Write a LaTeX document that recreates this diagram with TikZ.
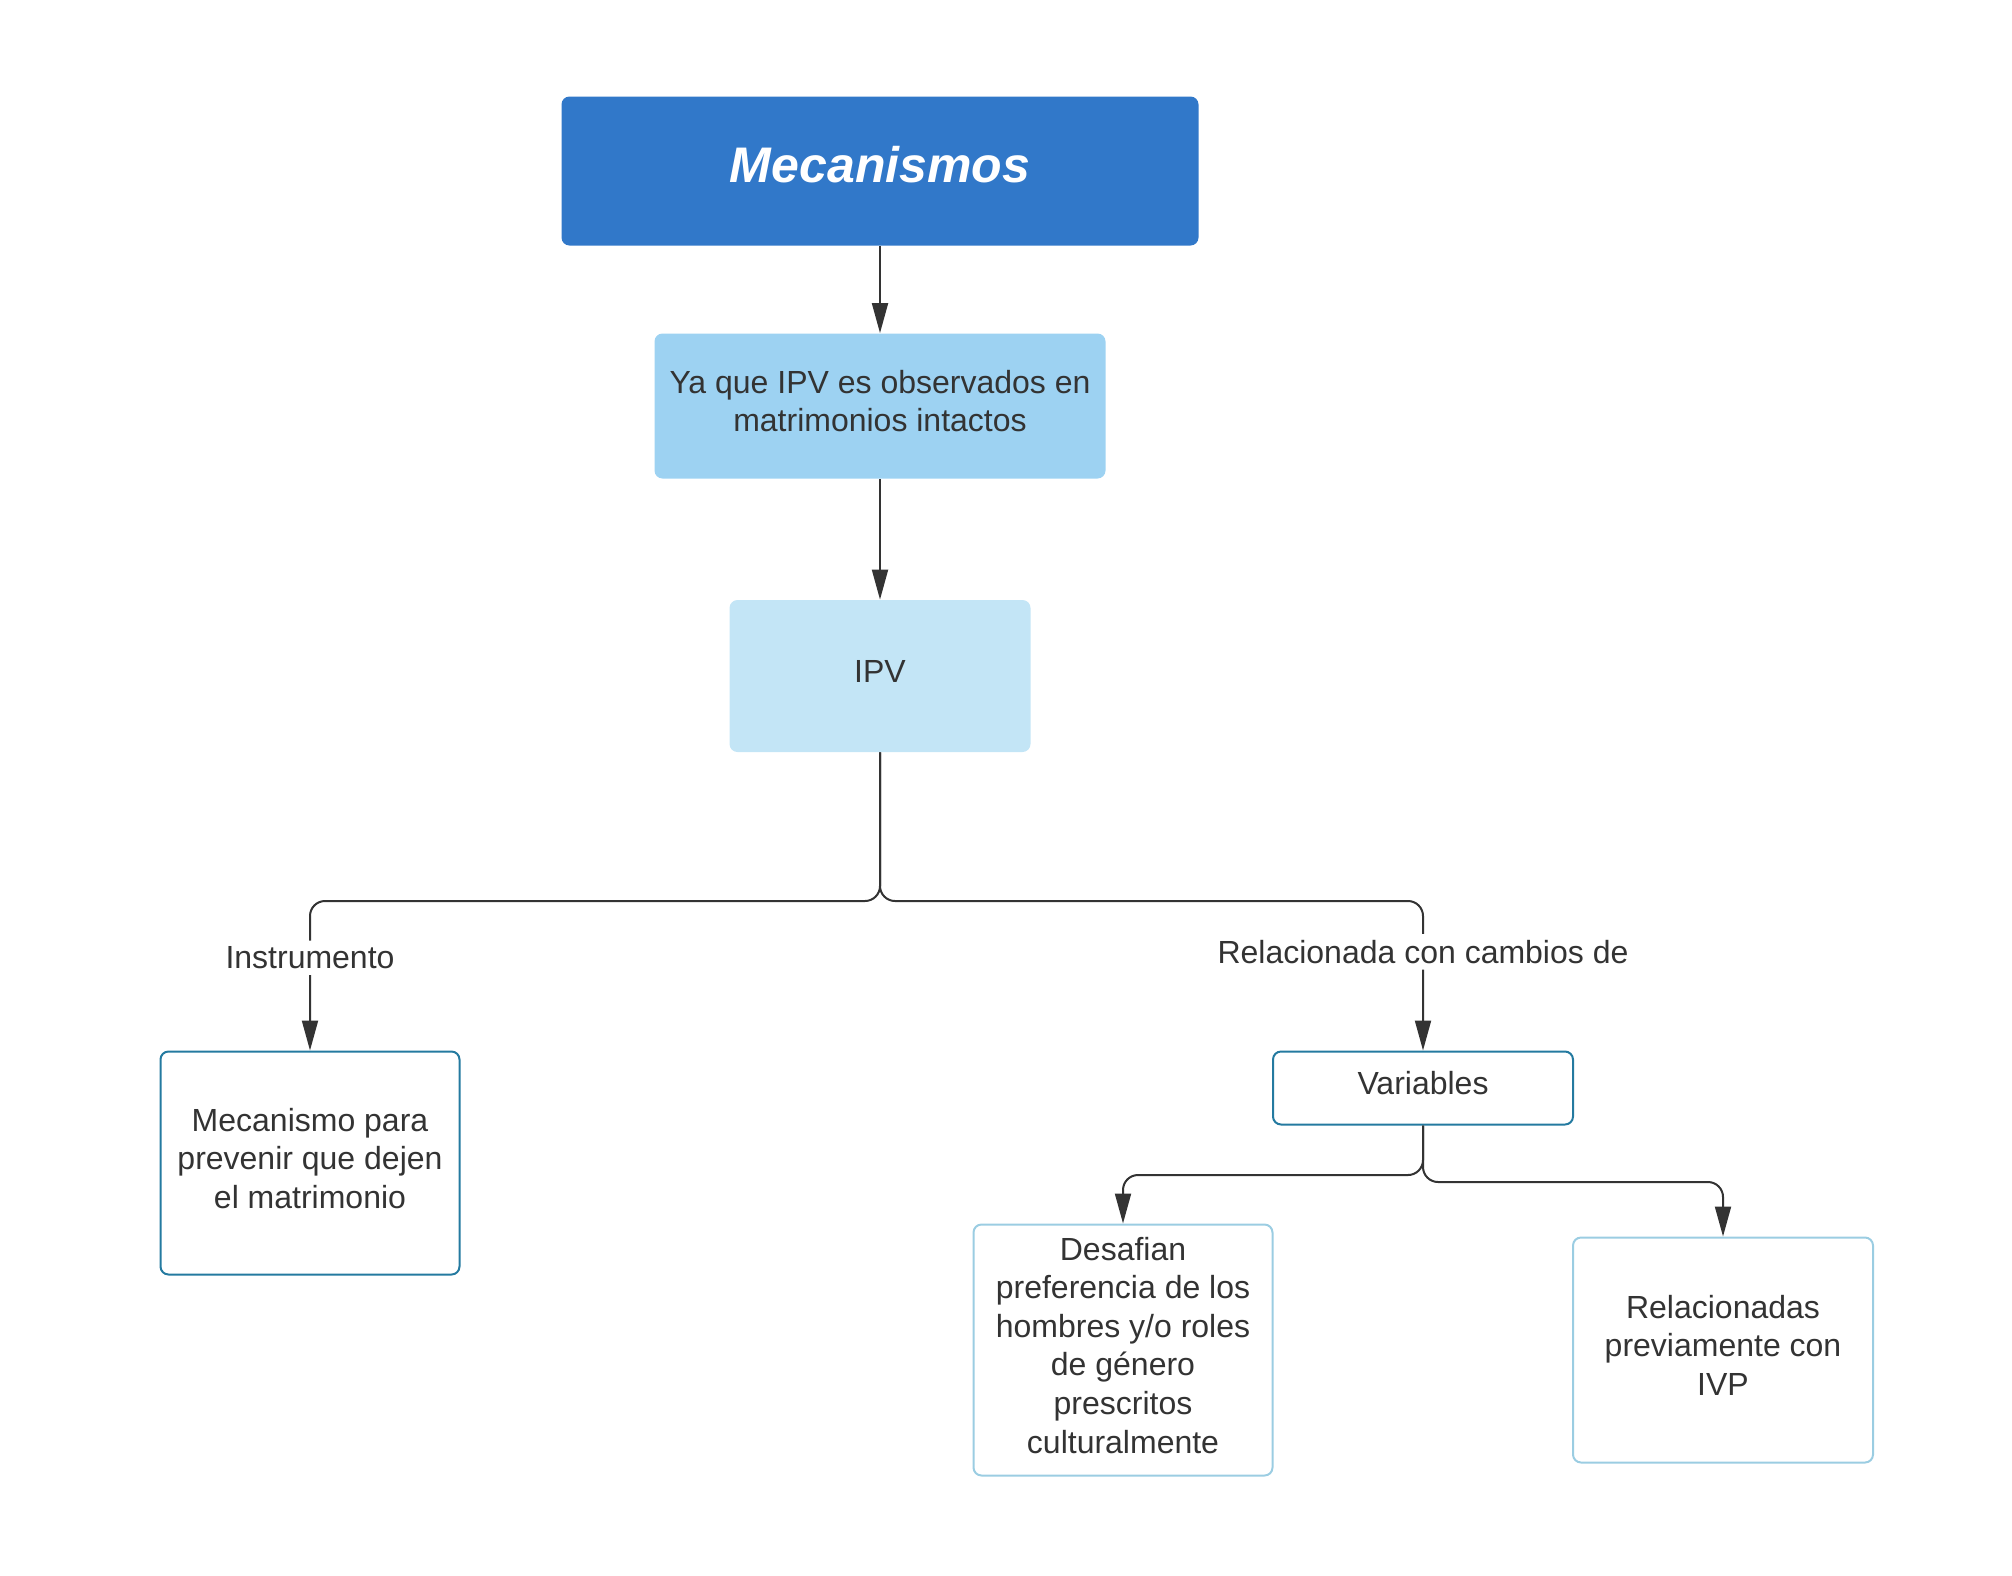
\documentclass[tikz,border=0pt]{standalone}
\usepackage{fontspec}
\setmainfont{Liberation Sans}
\usepackage{xcolor}
\usetikzlibrary{arrows.meta,positioning}
\definecolor{cTop}{RGB}{49,120,201}
\definecolor{cMid}{RGB}{157,210,242}
\definecolor{cLow}{RGB}{195,229,246}
\definecolor{cDeep}{RGB}{36,122,160}
\definecolor{cPale}{RGB}{155,205,226}
\definecolor{cInk}{RGB}{51,51,51}

\begin{document}
\begin{tikzpicture}[x=0.5pt,y=-0.5pt,>={Triangle[length=15pt,width=8pt]},
    font=\fontsize{16}{19.3}\selectfont,
    box/.style={rounded corners=4pt,align=center,inner sep=2pt,text=cInk,text depth=5pt},
    link/.style={->,line width=1pt,draw=cInk,rounded corners=7.5pt},
    tag/.style={fill=white,inner sep=3pt,text=cInk}]
  \useasboundingbox (0,0) rectangle (2012,1575);
  % upper chain
  \node[box,fill=cTop,text=white,text depth=6.5pt,minimum width=318.5pt,minimum height=74.5pt,
        font=\fontsize{25}{30}\selectfont\bfseries\itshape] (mec) at (880,171) {Mecanismos};
  \node[box,fill=cMid,minimum width=225.5pt,minimum height=72.5pt] (ya) at (880,406)
        {Ya que IPV es observados en\\matrimonios intactos};
  \node[box,fill=cLow,minimum width=150.5pt,minimum height=76pt] (ipv) at (880,676) {IPV};
  % lower boxes
  \node[box,draw=cDeep,line width=1pt,minimum width=149.5pt,minimum height=111.5pt] (prev) at (310,1163)
        {Mecanismo para\\prevenir que dejen\\el matrimonio};
  \node[box,draw=cDeep,line width=1pt,minimum width=150pt,minimum height=36.5pt] (var) at (1423,1088) {Variables};
  \node[box,draw=cPale,line width=1pt,minimum width=149.5pt,minimum height=125.5pt] (des) at (1123,1350)
        {Desafian\\preferencia de los\\hombres y/o roles\\de género\\prescritos\\culturalmente};
  \node[box,draw=cPale,line width=1pt,minimum width=150pt,minimum height=112.5pt] (rel) at (1723,1350)
        {Relacionadas\\previamente con\\IVP};

  \draw[link] (mec) -- (ya);
  \draw[link] (ya) -- (ipv);
  \draw[link] (ipv.south) |- (prev.north |- 0,901) -- node[tag,pos=0.38]{Instrumento} (prev.north);
  \draw[link] (ipv.south) |- (var.north |- 0,901) -- node[tag,pos=0.34]{Relacionada con cambios de} (var.north);
  \draw[link] (var.south) |- (des.north |- 0,1175) -- (des.north);
  \draw[link] (var.south) |- (rel.north |- 0,1182) -- (rel.north);
\end{tikzpicture}
\end{document}
